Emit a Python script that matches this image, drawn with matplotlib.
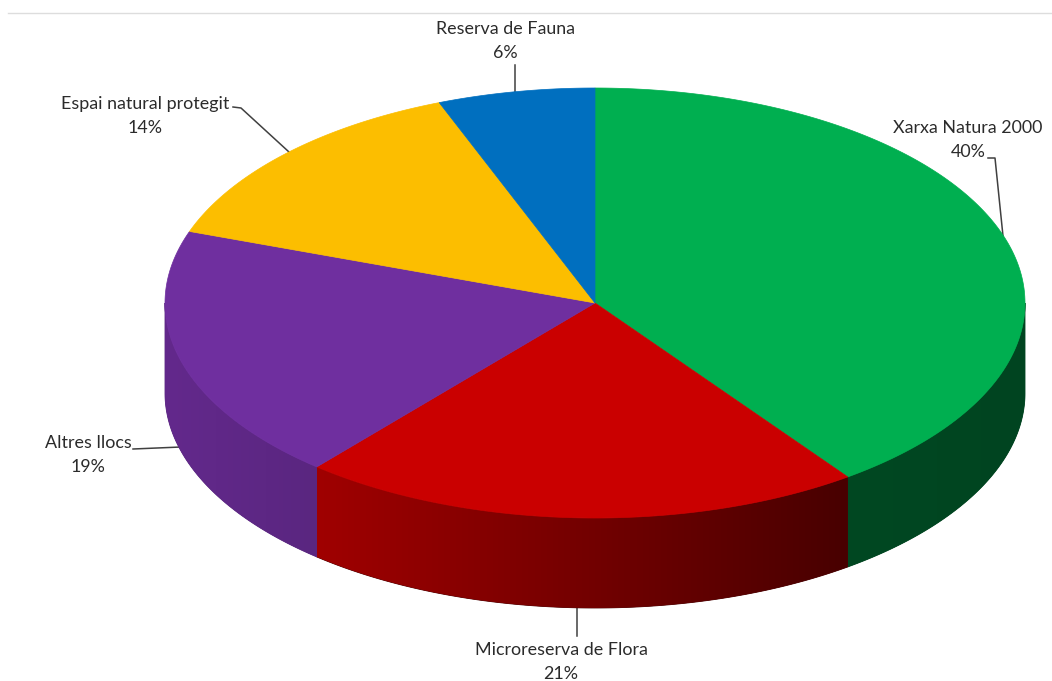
import numpy as np
from matplotlib import pyplot as plt
from matplotlib.colors import LinearSegmentedColormap
from matplotlib.patches import Polygon

# データ（12時の位置から時計回り）
names = ['Xarxa Natura 2000', 'Microreserva de Flora', 'Altres llocs',
         'Espai natural protegit', 'Reserva de Fauna']
values = [40.0, 21.2, 19.2, 13.7, 5.9]
top_colors = ['#00AF50', '#CA0000', '#6F2F9F', '#FCBE00', '#006FBF']
side_left = ['#004822', '#A00000', '#63298C', '#FCBE00', '#006FBF']
side_right = ['#004420', '#480000', '#5A2680', '#FCBE00', '#006FBF']

# ラベルの中心位置と引き出し線（ピクセル座標）
label_pos = [(968, 140), (561, 662), (88, 455), (145, 116), (505, 41)]
leaders = [[(988, 158), (995, 158), (1003, 236)],
           [(577, 607), (577, 636)],
           [(133, 449), (181, 447)],
           [(233, 107), (241, 108), (289, 152)],
           [(515, 65), (515, 92)]]

# 円盤の形状
cx, cy = 595, 303
rx, ry = 430, 215
depth = 90


def rim(start, end, offset=0):
    th = np.radians(np.linspace(start, end, 200))
    return np.column_stack([cx + rx * np.sin(th), cy - ry * np.cos(th) + offset])


fig = plt.figure(figsize=(10.52, 6.81), dpi=100)
ax = fig.add_axes([0, 0, 1, 1])

edges = np.cumsum([0] + values) / sum(values) * 360

# 側面（手前の半周だけ見える）
for i in range(len(values)):
    start = max(edges[i], 90)
    end = min(edges[i + 1], 270)
    if start >= end:
        continue
    wall = np.vstack([rim(start, end), rim(start, end, depth)[::-1]])
    x0, x1 = wall[:, 0].min(), wall[:, 0].max()
    # 下地を敷いて面の継ぎ目を隠す
    patch = Polygon(wall, closed=True, fc=side_right[i], ec=side_right[i], lw=0.6, zorder=2)
    ax.add_patch(patch)
    # 色は左右方向のグラデーション
    cmap = LinearSegmentedColormap.from_list('side', [side_left[i], side_right[i]])
    im = ax.imshow(np.linspace(0, 1, 256).reshape(1, -1), cmap=cmap, aspect='auto',
                   extent=[x0, x1, wall[:, 1].max(), wall[:, 1].min()], zorder=2.5)
    im.set_clip_path(patch)

# 上面
for i in range(len(values)):
    wedge = np.vstack([[cx, cy], rim(edges[i], edges[i + 1])])
    ax.fill(wedge[:, 0], wedge[:, 1], fc=top_colors[i], ec=top_colors[i], lw=0.5, zorder=3)

# 引き出し線とラベル
for line in leaders:
    pts = np.array(line)
    ax.plot(pts[:, 0], pts[:, 1], color='#404040', lw=1.1, zorder=1)

for name, v, (x, y) in zip(names, values, label_pos):
    ax.text(x, y, f'{name}\n{v:.0f}%', ha='center', va='center', family='Lato',
            fontsize=12.85, color='#2B2B2B', linespacing=1.62, zorder=4)

# 上端の薄い線
ax.plot([8, 1052], [12.5, 12.5], color='#DDDDDD', lw=1, zorder=1)

ax.set_xlim(0, 1052)
ax.set_ylim(681, 0)
ax.axis('off')

fig.savefig('out.png', dpi=100, facecolor='white')
plt.close()
